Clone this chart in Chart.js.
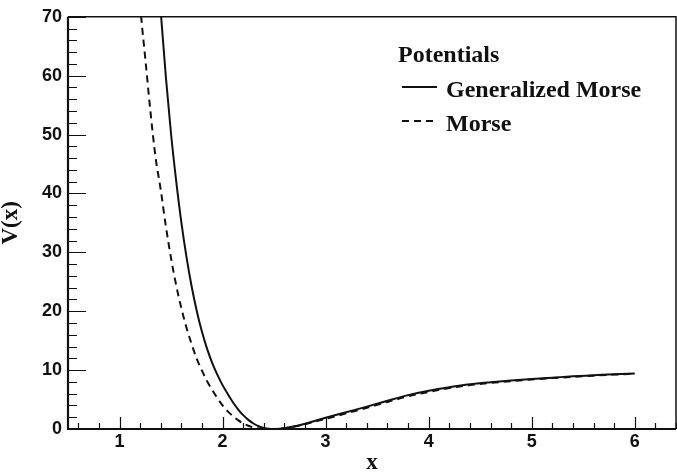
<!DOCTYPE html>
<html>
<head>
<meta charset="utf-8">
<script src="https://cdn.jsdelivr.net/npm/chart.js@4.4.1/dist/chart.umd.min.js"></script>
<style>
  html, body { margin: 0; padding: 0; background: #fff; }
  #wrap { width: 677px; height: 473px; }
</style>
</head>
<body>
<div id="wrap"><canvas id="c" width="677" height="473"></canvas></div>
<script>
// values
const genMorseX = [1.39, 1.40, 1.45, 1.50, 1.55, 1.60, 1.65, 1.70, 1.75, 1.80, 1.85, 1.90, 1.95, 2.00, 2.05, 2.10, 2.15, 2.20, 2.25, 2.30, 2.35, 2.40, 2.45, 2.50, 2.55, 2.60, 2.70, 2.80, 2.90, 3.00, 3.20, 3.40, 3.60, 3.80, 4.00, 4.20, 4.40, 4.60, 4.80, 5.00, 5.20, 5.40, 5.60, 5.80, 6.00];
const genMorseV = [73.2, 70.9, 59.7, 50.1, 42.1, 35.1, 29.2, 24.2, 20.0, 16.5, 13.6, 11.2, 9.2, 7.45, 5.95, 4.55, 3.35, 2.35, 1.55, 0.93, 0.47, 0.17, 0.03, 0.0, 0.03, 0.12, 0.45, 0.9, 1.4, 1.9, 2.85, 3.8, 4.8, 5.75, 6.5, 7.1, 7.6, 7.95, 8.25, 8.5, 8.72, 8.95, 9.12, 9.3, 9.44];

const morseX = [1.20, 1.21, 1.25, 1.30, 1.35, 1.40, 1.45, 1.50, 1.55, 1.60, 1.65, 1.70, 1.75, 1.80, 1.85, 1.90, 1.95, 2.00, 2.05, 2.10, 2.15, 2.20, 2.25, 2.30, 2.35, 2.40, 2.45, 2.50, 2.60, 2.70, 2.80, 2.90, 3.00, 3.20, 3.40, 3.60, 3.80, 4.00, 4.20, 4.40, 4.60, 4.80, 5.00, 5.20, 5.40, 5.60, 5.80, 6.00];
const morseV = [72.2, 70.0, 62.9, 53.9, 46.1, 40.6, 34.4, 29.0, 24.4, 20.5, 17.2, 14.4, 11.9, 9.9, 8.1, 6.6, 5.25, 4.0, 3.0, 2.2, 1.5, 0.95, 0.55, 0.25, 0.08, 0.01, 0.0, 0.02, 0.12, 0.42, 0.82, 1.27, 1.72, 2.65, 3.6, 4.6, 5.55, 6.3, 6.95, 7.45, 7.82, 8.12, 8.4, 8.64, 8.86, 9.06, 9.24, 9.4];

const xTicks = [1, 2, 3, 4, 5, 6];
const yTicks = [0, 10, 20, 30, 40, 50, 60, 70];
const xRange = [0.5, 6.4];
const yRange = [0, 70];
const xMinorStep = 0.2;
const yMinorStep = 2;

const ink = '#111';
const dash = [7, 5];

// ROOT-like frame with inward ticks
const frameTicks = {
  id: 'frameTicks',
  afterDatasetsDraw(chart) {
    const { ctx, chartArea: a, scales: { x, y } } = chart;
    ctx.save();
    ctx.strokeStyle = ink;
    ctx.lineWidth = 1.5;
    ctx.beginPath();
    ctx.moveTo(a.left, a.top); ctx.lineTo(a.right, a.top); ctx.lineTo(a.right, a.bottom);
    ctx.stroke();
    ctx.lineWidth = 1.2;
    ctx.beginPath();
    for (let v = Math.ceil(xRange[0] / xMinorStep) * xMinorStep; v <= xRange[1] + 1e-9; v += xMinorStep) {
      const px = Math.round(x.getPixelForValue(v)) + 0.5;
      const major = Math.abs(v - Math.round(v)) < 1e-6;
      ctx.moveTo(px, a.bottom); ctx.lineTo(px, a.bottom - (major ? 12 : 6));
    }
    for (let v = yRange[0]; v <= yRange[1] + 1e-9; v += yMinorStep) {
      const py = Math.round(y.getPixelForValue(v)) + 0.5;
      const major = v % 10 === 0;
      ctx.moveTo(a.left, py); ctx.lineTo(a.left + (major ? 18 : 9), py);
    }
    ctx.stroke();
    ctx.lineWidth = 2.2;
    ctx.beginPath();
    ctx.moveTo(a.left, a.top); ctx.lineTo(a.left, a.bottom); ctx.lineTo(a.right, a.bottom);
    ctx.stroke();
    ctx.restore();
  },
  afterDraw(chart) {
    const { ctx } = chart;
    const ds = chart.data.datasets;
    ctx.save();
    ctx.fillStyle = ink;
    ctx.textBaseline = 'alphabetic';
    ctx.font = 'bold 24px "Liberation Serif"';
    ctx.fillText('Potentials', 398, 62);
    const rows = [[87, 97], [121, 131]];
    ds.forEach((d, i) => {
      const [ly, ty] = rows[i];
      ctx.strokeStyle = d.borderColor;
      ctx.lineWidth = d.borderWidth;
      ctx.setLineDash(d.borderDash || []);
      ctx.beginPath();
      ctx.moveTo(402, ly); ctx.lineTo(437, ly);
      ctx.stroke();
      ctx.setLineDash([]);
      ctx.fillText(d.label, 446, ty);
    });
    ctx.restore();
  }
};

const tickFont = { family: '"Liberation Sans", Arial, sans-serif', size: 18, weight: 'bold' };
const titleFont = { family: '"Liberation Serif", "Times New Roman", serif', size: 23, weight: 'bold', lineHeight: 1 };

new Chart(document.getElementById('c'), {
  type: 'line',
  data: {
    datasets: [
      {
        label: 'Generalized Morse',
        data: genMorseX.map((v, i) => ({ x: v, y: genMorseV[i] })),
        borderColor: ink,
        borderWidth: 2,
        pointRadius: 0,
        cubicInterpolationMode: 'monotone',
      },
      {
        label: 'Morse',
        data: morseX.map((v, i) => ({ x: v, y: morseV[i] })),
        borderColor: ink,
        borderWidth: 2,
        borderDash: dash,
        pointRadius: 0,
        cubicInterpolationMode: 'monotone',
      },
    ],
  },
  options: {
    responsive: false,
    animation: false,
    events: [],
    layout: { padding: { top: 14, right: 1, left: 0, bottom: 0 } },
    plugins: { legend: { display: false }, tooltip: { enabled: false } },
    scales: {
      x: {
        type: 'linear',
        min: xRange[0],
        max: xRange[1],
        afterBuildTicks: s => { s.ticks = xTicks.map(v => ({ value: v })); },
        afterFit: s => { s.height = 44; },
        grid: { display: false, drawTicks: false },
        border: { display: false },
        ticks: { color: ink, font: tickFont, padding: 2, maxRotation: 0 },
        title: { display: true, text: 'x', color: ink, font: titleFont, padding: { top: 0, bottom: -2 } },
      },
      y: {
        min: yRange[0],
        max: yRange[1],
        afterBuildTicks: s => { s.ticks = yTicks.map(v => ({ value: v })); },
        afterFit: s => { s.width = 68; },
        grid: { display: false, drawTicks: false },
        border: { display: false },
        ticks: { color: ink, font: tickFont, padding: 6 },
        title: { display: true, text: 'V(x)', color: ink, font: titleFont, padding: 0 },
      },
    },
  },
  plugins: [frameTicks],
});
</script>
</body>
</html>
